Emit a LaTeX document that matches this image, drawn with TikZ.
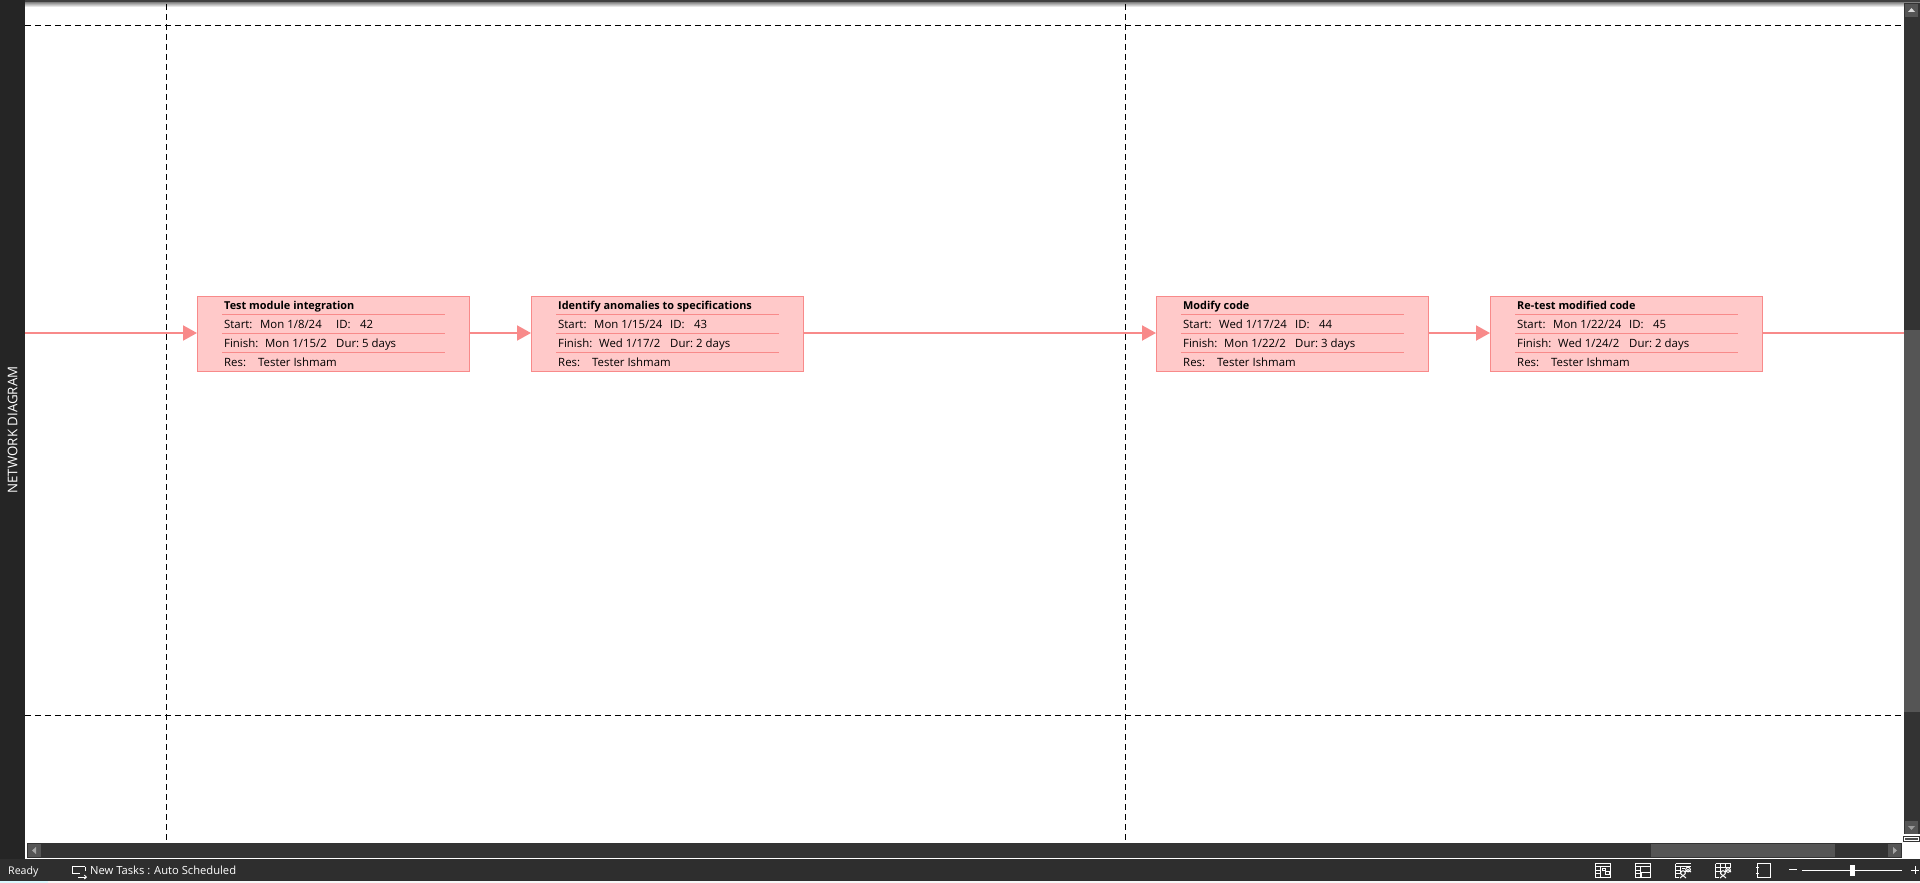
\documentclass[tikz,border=0pt]{standalone}
\usepackage{fontspec}
\setmainfont{Open Sans}
\usetikzlibrary{arrows.meta}
\definecolor{pinkline}{HTML}{F88A8A}
\definecolor{pinkfill}{HTML}{FFC9C9}
\definecolor{side}{HTML}{252525}
\definecolor{barc}{HTML}{333333}
\definecolor{thumb}{HTML}{555555}
\definecolor{stat}{HTML}{2E2E2E}
\tikzset{
 taskbox/.style={draw=pinkline,fill=pinkfill,line width=1pt,minimum width=272pt,minimum height=75.5pt,inner sep=0pt,anchor=north west},
 rowline/.style={pinkline,line width=1pt},
 lnk/.style={pinkline,line width=2pt,-{Triangle[length=14pt,width=15pt]},shorten >=0pt},
 lnkplain/.style={pinkline,line width=2pt},
 grid/.style={black,line width=1pt,dash pattern=on 6pt off 4pt},
 tx/.style={anchor=base west,inner sep=0pt,font=\fontsize{11.4}{13}\selectfont,text=black},
 ttl/.style={anchor=base west,inner sep=0pt,font=\fontsize{10.9}{13}\selectfont\bfseries,text=black},
 ui/.style={anchor=base west,inner sep=0pt,font=\fontsize{11.2}{13}\selectfont,text=white},
 ico/.style={draw=white,line width=1pt},
}
\newcommand{\taskrows}[9]{%
 \node[taskbox] (#1) at (#2,295.5) {};
 \draw[rowline] (#2+25,314.5) -- (#2+248,314.5);
 \draw[rowline] (#2+25,333.5) -- (#2+248,333.5);
 \draw[rowline] (#2+25,352.5) -- (#2+248,352.5);
 \node[ttl] (#1t) at (#2+27,309) {#3};
 \node[tx] (#1sl) at (#2+27,328) {Start:};
 \node[tx] (#1sv) at (#2+#8,328) {#4};
 \node[tx] (#1il) at (#2+139,328) {ID:};
 \node[tx] (#1iv) at (#2+139+24,328) {#5};
 \node[tx] (#1fl) at (#2+27,347) {Finish:};
 \node[tx] (#1fv) at (#2+#9,347) {#6};
 \node[tx] (#1dl) at (#2+139,347) {Dur:};
 \node[tx] (#1dv) at (#2+139+26,347) {#7};
 \node[tx] (#1rl) at (#2+27,366) {Res:};
 \node[tx] (#1rv) at (#2+61,366) {Tester Ishmam};
}
\begin{document}
\begin{tikzpicture}[x=1pt,y=-1pt]
\useasboundingbox (0,0) rectangle (1920,883);
\fill[white] (0,0) rectangle (1920,883);
\shade[top color=black!55,bottom color=white] (0,1.5) rectangle (1920,7);
\fill[black!75] (0,0) rectangle (1920,2);
\draw[grid] (25,26) -- (1904,26);
\draw[grid] (25,715) -- (1904,715);
\draw[grid] (166.5,4) -- (166.5,843);
\draw[grid] (1125,4) -- (1125,843);
\fill[side] (0,0) rectangle (25,859);
\node[rotate=90,inner sep=0pt,text=white,font=\fontsize{13.3}{15}\selectfont] (sidelabel) at (12.5,430) {NETWORK DIAGRAM};
\taskrows{a}{197}{Test module integration}{Mon 1/8/24}{42}{Mon 1/15/2}{5 days}{63}{68}
\taskrows{b}{531}{Identify anomalies to specifications}{Mon 1/15/24}{43}{Wed 1/17/2}{2 days}{63}{68}
\taskrows{c}{1156}{Modify code}{Wed 1/17/24}{44}{Mon 1/22/2}{3 days}{63}{68}
\taskrows{d}{1490}{Re-test modified code}{Mon 1/22/24}{45}{Wed 1/24/2}{2 days}{63}{68}
\coordinate (inL) at (25,333);
\coordinate (outR) at (1904,333);
\draw[lnk] (inL) -- (a.west |- inL);
\draw[lnk] (a.east |- inL) -- (b.west |- inL);
\draw[lnk] (b.east |- inL) -- (c.west |- inL);
\draw[lnk] (c.east |- inL) -- (d.west |- inL);
\draw[lnkplain] (d.east |- inL) -- (outR);
\fill[barc] (1904,3) rectangle (1920,834);
\fill[thumb] (1905,4) rectangle (1918,17);
\fill[black!15] (1908,12) -- (1911.5,8) -- (1915,12) -- cycle;
\fill[thumb] (1904,330) rectangle (1920,712);
\fill[thumb] (1905,821) rectangle (1918,834);
\fill[black!40] (1908,826) -- (1915,826) -- (1911.5,830) -- cycle;
\draw[barc,line width=1pt,fill=white] (1903.5,836.5) rectangle (1919.5,841.5);
\fill[black!70] (1905,838) rectangle (1918,840);
\fill[white] (25,843) rectangle (1920,860);
\fill[barc] (27,843) rectangle (1902,858);
\fill[thumb] (28,844) rectangle (41,857);
\fill[black!35] (36,847) -- (36,854) -- (32,850.5) -- cycle;
\fill[thumb] (1651,844) rectangle (1835,857);
\fill[thumb] (1888,844) rectangle (1901,857);
\fill[black!35] (1893,847) -- (1893,854) -- (1897,850.5) -- cycle;
\fill[stat] (0,859) rectangle (1920,881);
\fill[black!3] (0,881) rectangle (1920,883);
\fill[blue!15!cyan!15] (0,881) rectangle (48,883);
\node[ui,font=\fontsize{10.6}{13}\selectfont] (ready) at (8,874) {Ready};
\node[ui] (newtasks) at (90,874) {New Tasks : Auto Scheduled};
\draw[ico] (85,866.5) -- (72.5,866.5) -- (72.5,873.5) -- (80,873.5);
\draw[ico] (85,866.5) -- (85,871);
\draw[ico,-{Straight Barb[length=2pt,width=4pt]}] (78,877) -- (87,877);
\begin{scope}[xshift=1595pt]
\draw[ico] (0.5,863.5) rectangle (15.5,877.5);
\draw[ico] (0.5,866.5) -- (15.5,866.5) (5,866.5) -- (5,877.5) (0.5,870) -- (5,870) (0.5,873.5) -- (5,873.5);
\draw[ico] (7,868.5) rectangle (10,870.5) (10.5,871.5) rectangle (14,874);
\end{scope}
\begin{scope}[xshift=1635pt]
\draw[ico] (0.5,863.5) rectangle (15.5,877.5);
\draw[ico] (0.5,866.5) -- (15.5,866.5) (5,866.5) -- (5,877.5) (0.5,870) -- (5,870) (0.5,873.5) -- (5,873.5);
\fill[stat] (6,872) rectangle (16,878);
\draw[ico] (6.5,872.5) rectangle (15.5,877.5);
\end{scope}
\begin{scope}[xshift=1675pt]
\draw[ico] (0.5,863.5) -- (15.5,863.5) (0.5,863.5) -- (0.5,877.5) -- (4,877.5);
\draw[ico] (0.5,866.5) -- (15.5,866.5) (5,866.5) -- (5,874) (0.5,870) -- (5,870) (0.5,873.5) -- (5,873.5);
\draw[ico] (7,868.5) -- (10,868.5);
\draw[ico] (13,869.5) circle (2.3pt) (8,873) circle (2.3pt);
\draw[ico] (5,878) -- (8,875.5) -- (11,878) (10,872) -- (13,869.5) -- (16,872);
\end{scope}
\begin{scope}[xshift=1715pt]
\draw[ico] (0.5,863.5) -- (15.5,863.5) (0.5,863.5) -- (0.5,877.5) -- (4,877.5);
\draw[ico] (0.5,867.5) -- (15.5,867.5) (5,863.5) -- (5,874) (10,863.5) -- (10,867.5) (15.5,863.5) -- (15.5,867.5) (0.5,871) -- (5,871);
\draw[ico] (13,870) circle (2.3pt) (8,873) circle (2.3pt);
\draw[ico] (5,878) -- (8,875.5) -- (11,878) (10,872) -- (13,869.5) -- (16,872);
\end{scope}
\begin{scope}[xshift=1756pt]
\draw[ico] (1.5,863.5) rectangle (14.5,877.5);
\draw[ico] (0,867.5) -- (3,867.5) (0,873.5) -- (3,873.5);
\end{scope}
\draw[ico] (1789,869.5) -- (1797,869.5);
\draw[ico] (1802,870) -- (1902,870);
\fill[white] (1850,865) rectangle (1855,876);
\draw[ico] (1911,870) -- (1919,870) (1915,866) -- (1915,874);
\end{tikzpicture}
\end{document}
